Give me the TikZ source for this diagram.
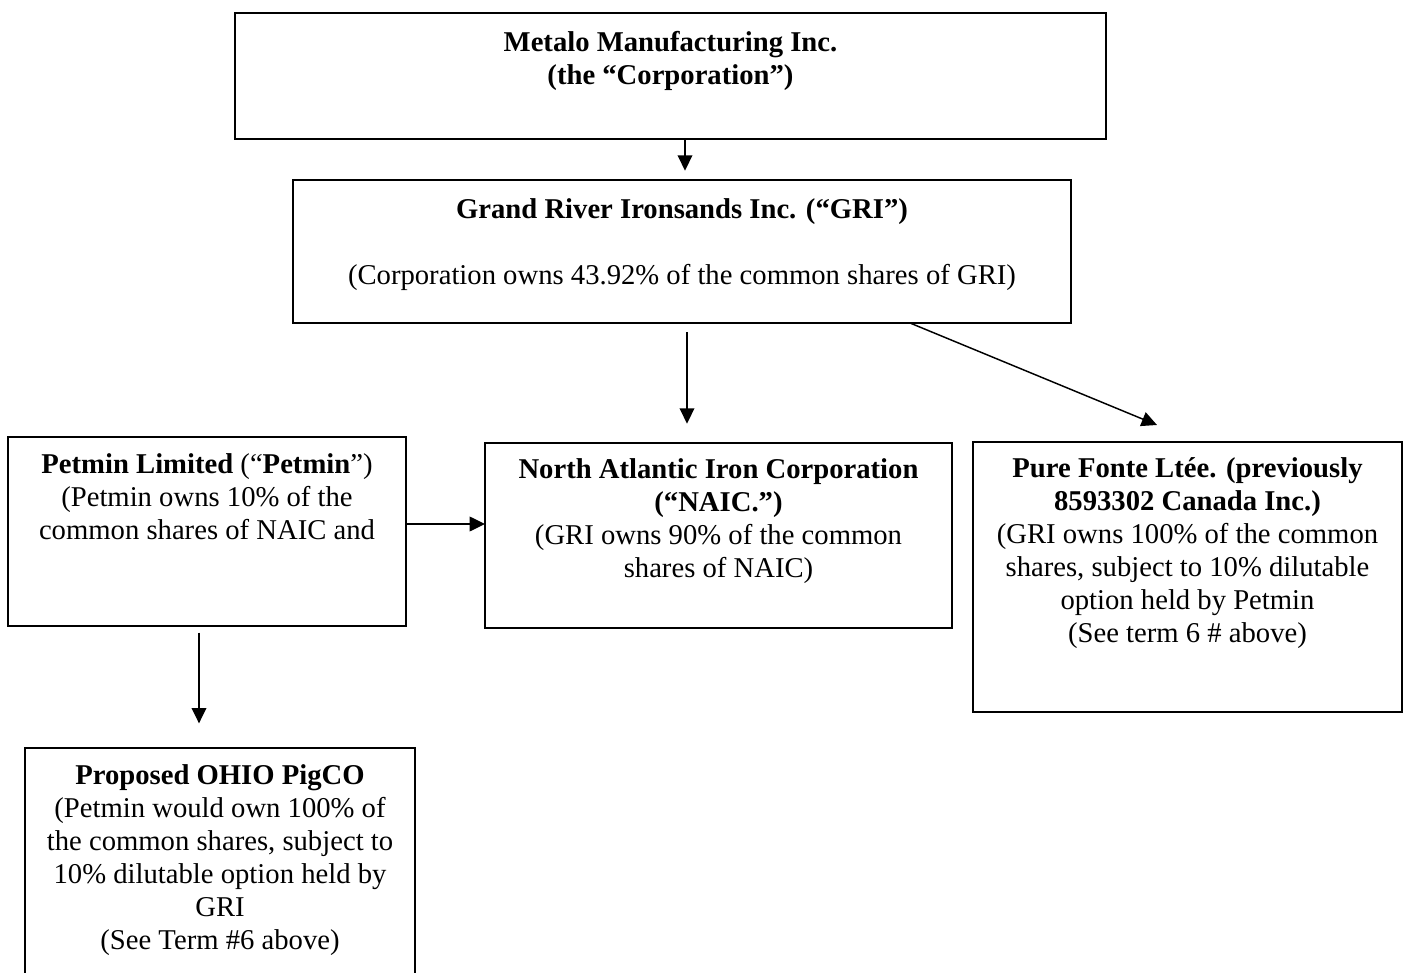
\documentclass[tikz,border=0pt]{standalone}
\usepackage{fontspec}
\setmainfont{Liberation Serif}
\usetikzlibrary{arrows.meta,calc}
\begin{document}
\begin{tikzpicture}[x=0.75pt,y=-0.75pt,
  box/.style={draw=black,line width=1.2pt,rectangle,inner sep=0pt,outer sep=0pt,anchor=north west},
  txt/.style={align=center,inner sep=0pt,anchor=north,font=\fontsize{21.5}{24.75}\selectfont},
  arr/.style={line width=1.1pt,-{Triangle[length=11.5pt,width=11pt]}}]
\clip (0,0) rectangle (1403,973);
\fill[white] (0,0) rectangle (1403,973);

% boxes
\node[box,minimum width=653.25pt,minimum height=94.5pt] (top) at (235,13) {};
\node[box,minimum width=583.5pt,minimum height=107.25pt] (gri) at (293,180) {};
\node[box,minimum width=298.5pt,minimum height=141.75pt] (pet) at (8,437) {};
\node[box,minimum width=350.25pt,minimum height=138.75pt] (naic) at (485,443) {};
\node[box,minimum width=321.75pt,minimum height=202.5pt] (pure) at (973,442) {};
\node[box,minimum width=292.5pt,minimum height=189pt] (ohio) at (25,748) {};

% texts
\node[txt] (topT) at ([yshift=-11.5pt]top.north) {\strut\textbf{Metalo Manufacturing Inc.}\\\textbf{(the “Corporation”)}};
\node[txt] (griT) at ([yshift=-11pt]gri.north) {\strut\textbf{Grand River Ironsands Inc. (“GRI”)}\\[24.75pt](Corporation owns 43.92\% of the common shares of GRI)};
\node[txt] (petT) at ([yshift=-9.5pt]pet.north) {\strut\textbf{Petmin Limited} (“\textbf{Petmin}”)\\(Petmin owns 10\% of the\\common shares of NAIC and};
\node[txt] (naicT) at ([yshift=-9pt]naic.north) {\strut\textbf{North Atlantic Iron Corporation}\\\textbf{(“NAIC.”)}\\(GRI owns 90\% of the common\\shares of NAIC)};
\node[txt] (pureT) at ([yshift=-9pt]pure.north) {\strut\textbf{Pure Fonte Ltée. (previously}\\\textbf{8593302 Canada Inc.)}\\(GRI owns 100\% of the common\\shares, subject to 10\% dilutable\\option held by Petmin\\(See term 6 \# above)};
\node[txt] (ohioT) at ([yshift=-9.5pt]ohio.north) {\strut\textbf{Proposed OHIO PigCO}\\(Petmin would own 100\% of\\the common shares, subject to\\10\% dilutable option held by\\GRI\\(See Term \#6 above)};

% connector helpers
\coordinate (xa) at (685,0);
\coordinate (xb) at (687,0);
\coordinate (xc) at (910,0);
\coordinate (ptip) at (1157,425);
\coordinate (ya) at (0,524);
\coordinate (xd) at (199,0);

% connectors
\draw[arr,shorten >=7pt] (top.south -| xa) -- (gri.north -| xa);
\draw[arr,shorten <=7pt,shorten >=14.5pt] (gri.south -| xb) -- (naic.north -| xb);
\draw[arr] (gri.south -| xc) -- (ptip);
\draw[arr] (pet.east |- ya) -- (naic.west |- ya);
\draw[arr,shorten <=5pt,shorten >=18.5pt] (pet.south -| xd) -- (ohio.north -| xd);
\end{tikzpicture}
\end{document}
